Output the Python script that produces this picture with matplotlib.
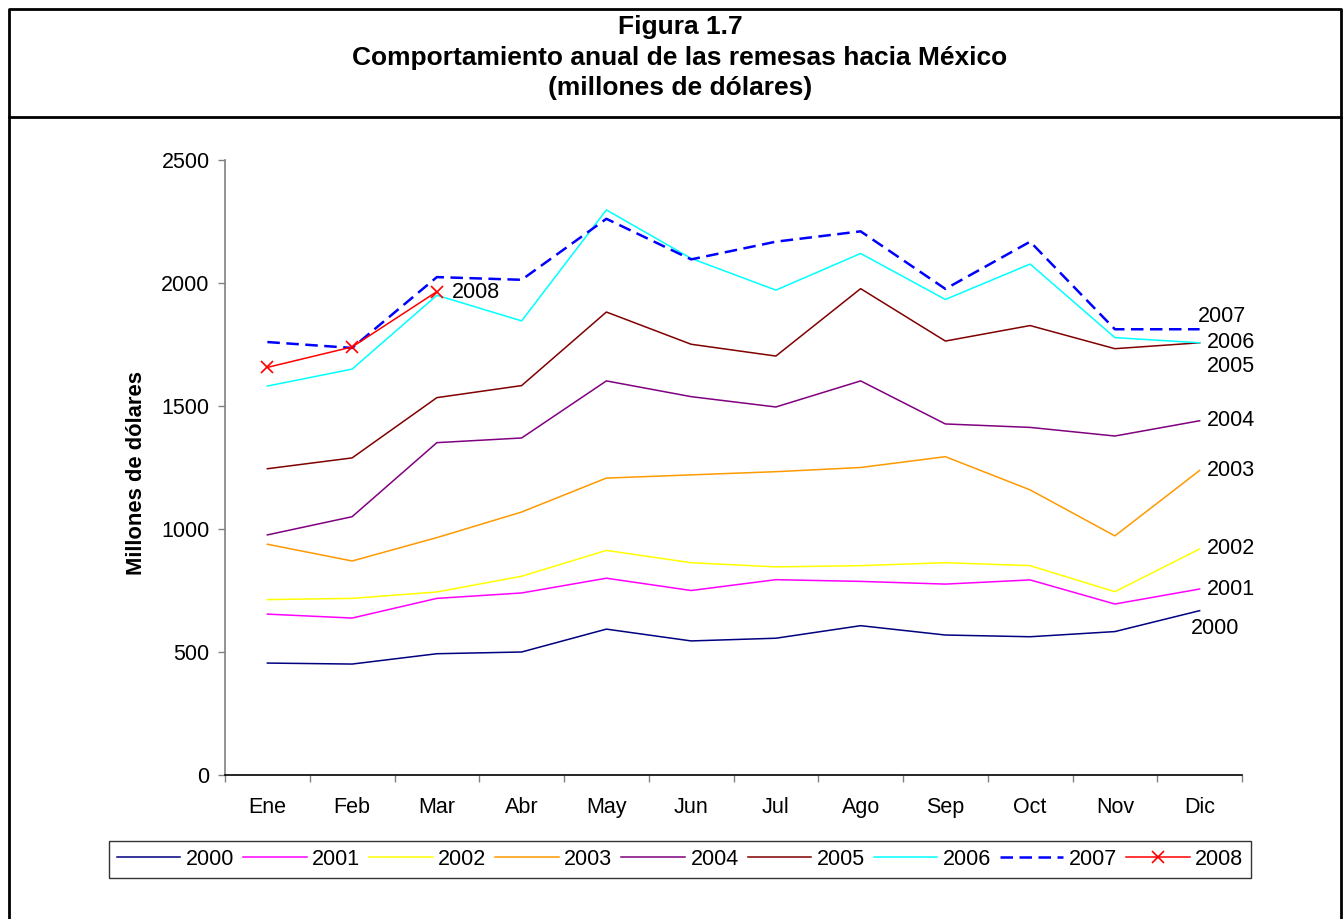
import matplotlib
matplotlib.use("Agg")
import matplotlib.pyplot as plt
from matplotlib.lines import Line2D

plt.rcParams['font.family'] = ['Liberation Sans', 'DejaVu Sans']

months = ["Ene", "Feb", "Mar", "Abr", "May", "Jun", "Jul", "Ago", "Sep", "Oct", "Nov", "Dic"]

r2000 = [455, 451, 493, 500, 593, 545, 556, 607, 569, 562, 583, 668]
r2001 = [654, 638, 718, 740, 800, 750, 794, 787, 776, 793, 695, 756]
r2002 = [713, 718, 744, 808, 913, 863, 846, 851, 863, 851, 745, 919]
r2003 = [938, 870, 965, 1069, 1207, 1220, 1233, 1250, 1294, 1159, 972, 1238]
r2004 = [976, 1050, 1351, 1370, 1602, 1538, 1496, 1602, 1427, 1413, 1378, 1440]
r2005 = [1245, 1289, 1534, 1583, 1882, 1751, 1703, 1977, 1764, 1827, 1733, 1757]
r2006 = [1581, 1650, 1950, 1846, 2297, 2100, 1971, 2120, 1933, 2077, 1778, 1757]
r2007 = [1760, 1736, 2024, 2013, 2261, 2096, 2168, 2210, 1976, 2168, 1812, 1812]
r2008 = [1657, 1740, 1965]

years = ["2000", "2001", "2002", "2003", "2004", "2005", "2006", "2007", "2008"]
series = [r2000, r2001, r2002, r2003, r2004, r2005, r2006, r2007, r2008]
colors = ["#000080", "#FF00FF", "#FFFF00", "#FF9900", "#800080",
          "#800000", "#00FFFF", "#0000FF", "#FF0000"]

FS = 15.5

W, H = 1343, 919
fig = plt.figure(figsize=(W / 100, H / 100), dpi=100)
ax = fig.add_axes([225 / W, 1 - 775 / H, (1242 - 225) / W, (775 - 160) / H])

handles = []
for yr, vals, c in zip(years, series, colors):
    x = list(range(len(vals)))
    if yr == "2007":
        h, = ax.plot(x, vals, color=c, lw=1.8, ls=(0, (5, 2.6)))
    elif yr == "2008":
        h, = ax.plot(x, vals, color=c, lw=1.1, marker='x', ms=8, mew=1.2)
    else:
        h, = ax.plot(x, vals, color=c, lw=1.1)
    handles.append(h)

# end-of-line year labels (pixel offsets from the last point)
label_offsets = {"2000": (-9, -18), "2001": (7, 0), "2002": (7, 0), "2003": (7, 0),
                 "2004": (7, 0), "2005": (7, -24), "2006": (7, 0), "2007": (-2, 13),
                 "2008": (15, -1)}
for yr, vals in zip(years, series):
    dx, dy = label_offsets[yr]
    ax.annotate(yr, (len(vals) - 1, vals[-1]), xytext=(dx, dy),
                textcoords='offset pixels', ha='left', va='center', fontsize=FS)

ax.set_xlim(-0.5, 11.5)
ax.set_ylim(0, 2500)
ax.set_yticks(range(0, 2501, 500))
ax.set_xticks(range(12))
ax.set_xticklabels(months)
ax.set_xticks([i + 0.5 for i in range(-1, 12)], minor=True)
ax.tick_params(axis='x', which='major', length=0, pad=16, labelsize=FS)
ax.tick_params(axis='x', which='minor', length=5, width=1, color='#808080', direction='out')
ax.tick_params(axis='y', length=5, width=1, color='#808080', pad=6, labelsize=FS)
for s in ['top', 'right']:
    ax.spines[s].set_visible(False)
ax.spines['left'].set_color('#808080')
ax.spines['bottom'].set_color('#000000')
ax.spines['left'].set_linewidth(1.2)
ax.spines['bottom'].set_linewidth(1.2)

fig.text(137 / W, 1 - 473 / H, "Millones de dólares", rotation=90, ha='center',
         va='center', fontsize=15.8, fontweight='bold')

fig.text(680 / W, 1 - 27 / H, "Figura 1.7", ha='center', va='center',
         fontsize=19, fontweight='bold')
fig.text(680 / W, 1 - 58 / H, "Comportamiento anual de las remesas hacia México",
         ha='center', va='center', fontsize=19, fontweight='bold')
fig.text(680 / W, 1 - 88 / H, "(millones de dólares)", ha='center', va='center',
         fontsize=19, fontweight='bold')

leg = fig.legend(handles, years, loc='center', ncol=9,
                 bbox_to_anchor=(680 / W, 1 - 859.5 / H), fontsize=FS,
                 frameon=True, fancybox=False, edgecolor='black',
                 handlelength=2.95, handletextpad=0.25, columnspacing=0.42,
                 borderpad=0.35, borderaxespad=0)
leg.get_frame().set_linewidth(1.0)

# outer frame and title separator
def fig_line(xs, ys, lw=2):
    fig.add_artist(Line2D([x / W for x in xs], [1 - y / H for y in ys],
                          color='black', lw=lw, transform=fig.transFigure))

fig_line([9, 1341, 1341, 9, 9], [930, 930, 9, 9, 930])
fig_line([9, 1341], [117, 117])

fig.savefig("out.png", dpi=100)
